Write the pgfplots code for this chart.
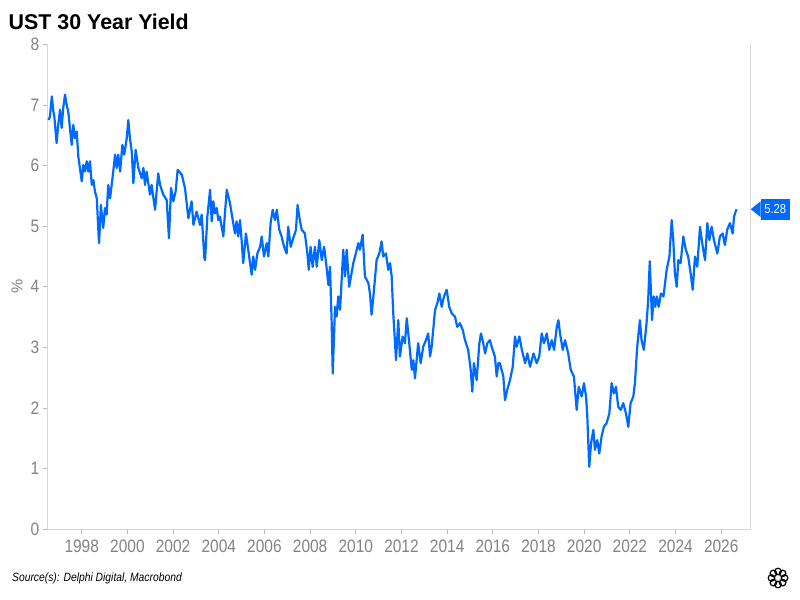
\documentclass[border=0pt]{standalone}
\usepackage{pgfplots}
\pgfplotsset{compat=1.18}
\usepackage{pgfplotstable}
\usepackage{fontspec}
\setmainfont{Liberation Sans}
\newfontfamily\narrowfont[FakeStretch=0.86]{Liberation Sans}
\definecolor{lineblue}{RGB}{0,106,255}
\definecolor{tickgray}{RGB}{130,130,130}
\definecolor{axgray}{RGB}{214,214,214}

\pgfplotstableread{
year value
1996.55 6.75
1996.61 6.81
1996.69 7.14
1996.76 6.89
1996.80 6.81
1996.90 6.37
1996.97 6.67
1997.05 6.92
1997.12 6.62
1997.19 6.95
1997.27 7.17
1997.34 7.00
1997.41 6.89
1997.56 6.34
1997.63 6.67
1997.71 6.45
1997.78 6.56
1997.85 6.15
1998.00 5.74
1998.07 6.01
1998.14 5.90
1998.22 6.07
1998.29 5.90
1998.36 6.07
1998.44 5.68
1998.51 5.76
1998.58 5.57
1998.66 5.46
1998.73 4.91
1998.76 4.72
1998.84 5.35
1998.94 4.97
1999.02 5.30
1999.09 5.19
1999.16 5.68
1999.24 5.46
1999.31 5.68
1999.38 5.90
1999.46 6.18
1999.53 5.96
1999.60 6.18
1999.68 5.90
1999.78 6.34
1999.86 6.18
1999.97 6.45
2000.04 6.75
2000.11 6.45
2000.19 6.23
2000.26 5.71
2000.36 6.26
2000.48 5.96
2000.63 5.79
2000.70 5.96
2000.77 5.68
2000.84 5.90
2000.99 5.52
2001.06 5.68
2001.21 5.27
2001.35 5.87
2001.43 5.68
2001.57 5.52
2001.72 5.43
2001.82 4.80
2001.91 5.63
2002.01 5.41
2002.11 5.57
2002.20 5.93
2002.38 5.85
2002.52 5.63
2002.67 5.13
2002.81 5.41
2002.89 5.02
2003.03 5.24
2003.18 5.02
2003.25 5.19
2003.37 4.47
2003.40 4.44
2003.50 5.16
2003.62 5.60
2003.69 5.08
2003.76 5.41
2003.83 5.21
2003.91 5.30
2003.98 5.10
2004.05 5.16
2004.20 4.83
2004.27 5.21
2004.35 5.60
2004.49 5.38
2004.61 5.10
2004.71 4.88
2004.78 5.08
2004.85 4.83
2004.93 5.10
2005.00 4.77
2005.07 4.39
2005.19 4.88
2005.29 4.61
2005.44 4.20
2005.51 4.50
2005.59 4.28
2005.69 4.55
2005.81 4.66
2005.88 4.83
2005.98 4.50
2006.10 4.72
2006.17 4.50
2006.27 5.05
2006.36 5.27
2006.46 5.10
2006.54 5.27
2006.65 4.94
2006.75 4.83
2006.86 4.66
2006.97 4.55
2007.04 4.99
2007.15 4.66
2007.26 4.80
2007.38 4.94
2007.45 5.35
2007.55 5.10
2007.63 4.94
2007.77 4.88
2007.88 4.55
2007.94 4.28
2008.02 4.66
2008.11 4.33
2008.21 4.66
2008.29 4.33
2008.40 4.77
2008.51 4.44
2008.61 4.66
2008.70 4.39
2008.80 4.03
2008.87 4.33
2008.94 3.45
2008.99 2.57
2009.09 3.67
2009.16 3.51
2009.23 3.84
2009.31 3.62
2009.45 4.61
2009.53 4.17
2009.60 4.61
2009.71 4.00
2009.89 4.39
2010.04 4.61
2010.11 4.72
2010.18 4.61
2010.30 4.86
2010.40 4.17
2010.55 4.06
2010.62 3.89
2010.69 3.54
2010.77 3.84
2010.91 4.44
2011.03 4.55
2011.13 4.75
2011.20 4.50
2011.32 4.55
2011.42 4.28
2011.50 4.39
2011.57 4.17
2011.64 3.56
2011.76 2.79
2011.86 3.45
2011.93 2.85
2012.05 3.18
2012.15 3.07
2012.23 3.48
2012.34 3.07
2012.45 2.63
2012.52 2.79
2012.59 2.49
2012.73 3.07
2012.84 2.74
2012.95 3.01
2013.07 3.12
2013.17 3.23
2013.25 2.85
2013.32 3.01
2013.47 3.62
2013.57 3.73
2013.66 3.89
2013.76 3.67
2013.86 3.84
2013.98 3.95
2014.09 3.67
2014.20 3.56
2014.34 3.51
2014.44 3.34
2014.56 3.40
2014.68 3.29
2014.78 3.12
2014.92 2.96
2015.03 2.63
2015.10 2.27
2015.17 2.74
2015.29 2.46
2015.41 3.07
2015.48 3.23
2015.58 3.07
2015.66 2.90
2015.76 3.07
2015.87 3.12
2015.99 2.96
2016.09 2.85
2016.17 2.52
2016.24 2.74
2016.31 2.74
2016.46 2.52
2016.53 2.13
2016.63 2.30
2016.75 2.46
2016.87 2.68
2016.97 3.18
2017.04 3.01
2017.16 3.18
2017.27 2.96
2017.41 2.74
2017.51 2.90
2017.63 2.68
2017.78 2.90
2017.92 2.74
2018.03 2.85
2018.14 3.23
2018.24 3.07
2018.36 3.23
2018.47 2.96
2018.58 3.12
2018.68 2.96
2018.80 3.34
2018.87 3.45
2018.94 3.23
2019.06 2.96
2019.16 3.12
2019.30 2.90
2019.41 2.63
2019.55 2.52
2019.67 1.97
2019.76 2.35
2019.89 2.19
2019.99 2.41
2020.08 2.19
2020.13 1.91
2020.22 1.03
2020.30 1.42
2020.40 1.64
2020.47 1.31
2020.57 1.47
2020.66 1.25
2020.76 1.53
2020.86 1.69
2020.98 1.75
2021.10 1.91
2021.20 2.41
2021.30 2.24
2021.39 2.35
2021.49 2.02
2021.60 1.97
2021.71 2.08
2021.83 1.91
2021.93 1.69
2022.03 2.08
2022.15 2.19
2022.22 2.41
2022.32 3.01
2022.44 3.45
2022.51 3.12
2022.61 2.96
2022.73 3.40
2022.80 3.78
2022.87 4.42
2022.97 3.45
2023.04 3.84
2023.11 3.67
2023.18 3.84
2023.26 3.67
2023.36 3.89
2023.47 3.84
2023.54 4.06
2023.61 4.28
2023.73 4.50
2023.83 5.10
2023.90 4.77
2023.97 4.22
2024.05 4.00
2024.12 4.44
2024.22 4.39
2024.34 4.83
2024.45 4.61
2024.55 4.50
2024.66 4.22
2024.75 3.95
2024.85 4.50
2024.95 4.33
2025.07 4.99
2025.19 4.66
2025.29 4.44
2025.39 5.05
2025.48 4.77
2025.58 4.99
2025.68 4.77
2025.83 4.55
2025.94 4.83
2026.06 4.88
2026.16 4.69
2026.26 4.94
2026.38 5.05
2026.50 4.88
2026.56 5.16
2026.67 5.28
}\ustdata

\begin{document}
\begin{tikzpicture}[x=1bp,y=1bp]
\useasboundingbox (0,0) rectangle (800,600);
\node[anchor=base west, inner sep=0pt, font=\fontsize{21.4bp}{24bp}\selectfont\bfseries] at (8.5,570.7) {UST 30 Year Yield};
\begin{axis}[
  at={(47.7bp,70.7bp)}, anchor=south west, scale only axis,
  width=703bp, height=485bp,
  xmin=1996.51, xmax=2027.29, ymin=0, ymax=8,
  axis x line*=bottom, axis y line*=left,
  axis line style={axgray, line width=0.8bp, -},
  xtick={1998,2000,...,2026}, ytick={0,1,...,8},
  tick align=outside, major tick length=5bp,
  tick style={color=axgray!70!gray, line width=0.8bp},
  ticklabel style={font=\fontsize{18bp}{20bp}\narrowfont, text=tickgray},
  /pgf/number format/assume math mode=true,
  /pgf/number format/1000 sep={},
  xticklabel style={yshift=-2bp},
  clip=false,
]
\addplot[lineblue, line width=2.2bp, line join=round] table[x=year, y=value] {\ustdata};
\draw[axgray, line width=0.8bp] (rel axis cs:1,0) -- (rel axis cs:1,1);
\coordinate (lab) at (axis cs:2027.29,5.28);
\end{axis}
\fill[lineblue] (lab) -- ++(10,8) -- ++(0,-16) -- cycle;
\fill[lineblue] ([xshift=10bp,yshift=-10.5bp]lab) rectangle ++(29,21);
\node[text=white, inner sep=0pt, font=\fontsize{13bp}{15bp}\narrowfont] at ([xshift=24.5bp]lab) {5.28};
\node[rotate=90, text=tickgray, font=\fontsize{16bp}{18bp}\selectfont] at (17,314) {\%};
\node[anchor=west, inner sep=0pt, font=\fontsize{12bp}{14bp}\narrowfont\itshape] at (12,22) {Source(s): Delphi Digital, Macrobond};
\foreach \a in {0,45,...,315} {
  \draw[black, line width=1.2bp] (778,22) ++(\a:6.5) circle (3.3);
}
\end{tikzpicture}
\end{document}
